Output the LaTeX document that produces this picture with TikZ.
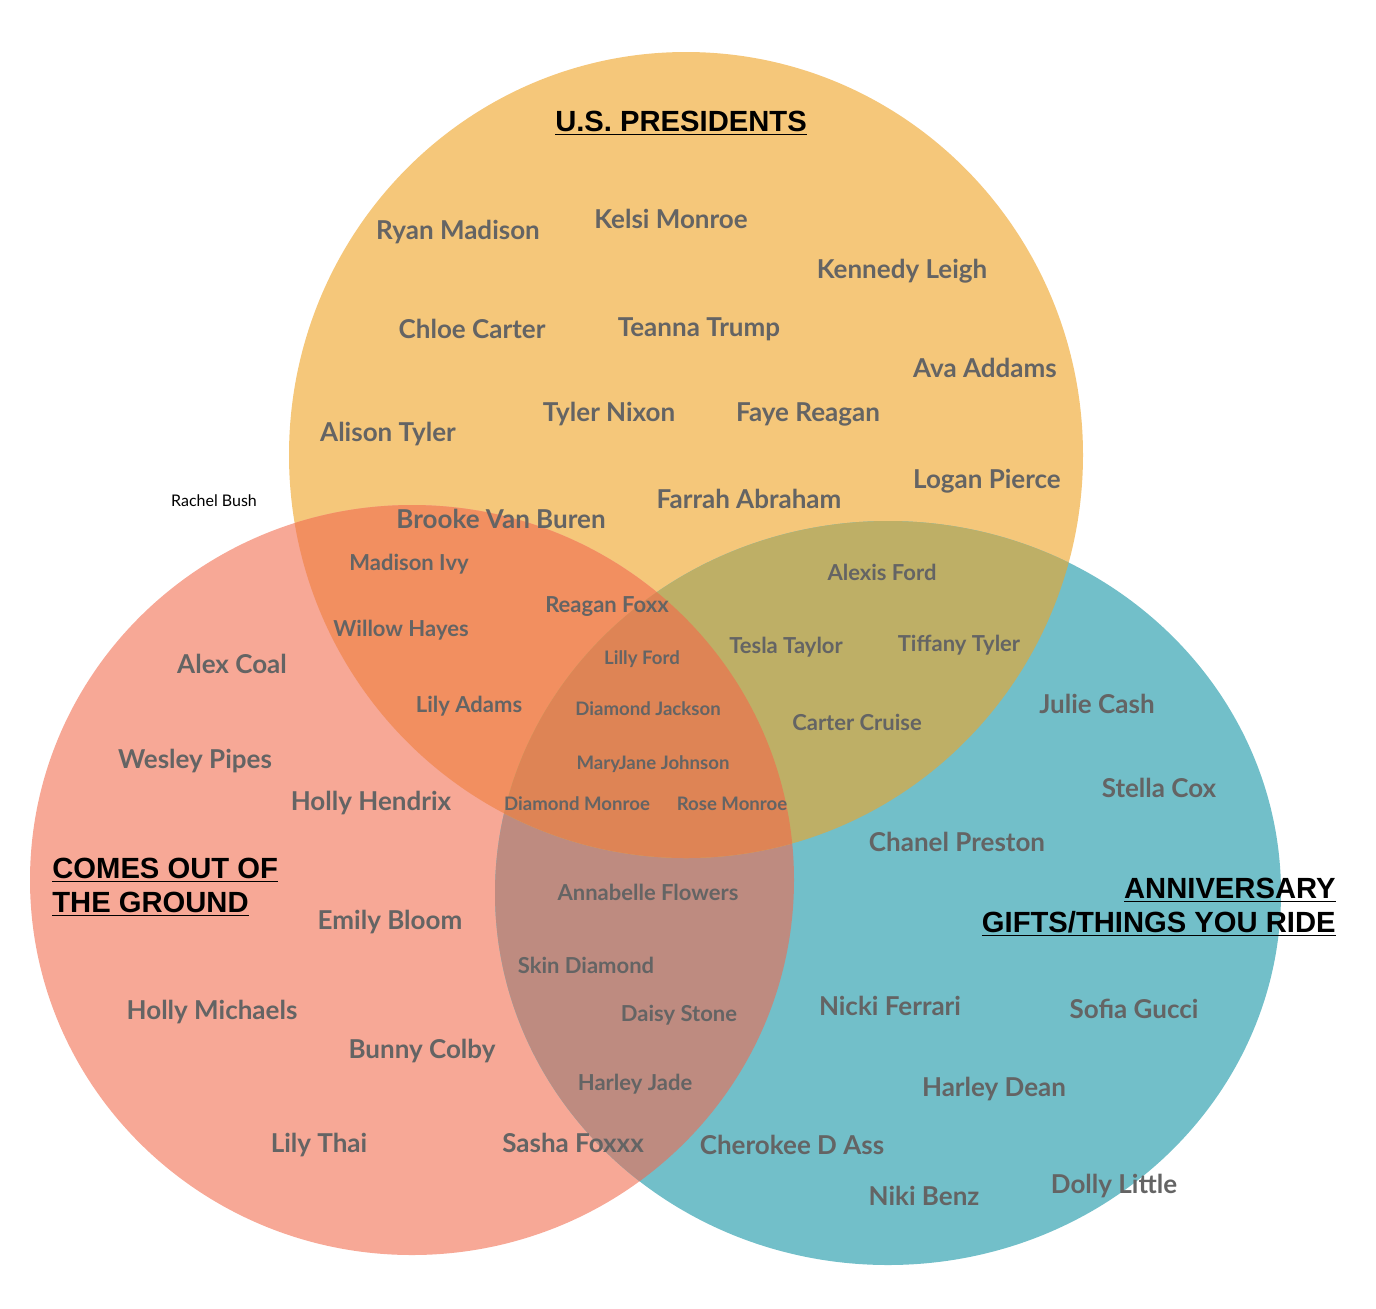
\documentclass[tikz,border=0pt]{standalone}
\usepackage{fontspec}
\setmainfont{Lato}
\newfontfamily\headfont{Liberation Sans}
\definecolor{topc}{RGB}{245,199,122}
\definecolor{leftc}{RGB}{247,168,150}
\definecolor{rightc}{RGB}{114,191,201}
\definecolor{tlc}{RGB}{242,143,96}
\definecolor{trc}{RGB}{190,175,102}
\definecolor{lrc}{RGB}{190,139,128}
\definecolor{allc}{RGB}{222,132,85}
\definecolor{txt}{RGB}{100,100,100}
\tikzset{
  nm/.style={text=txt,font=\bfseries\fontsize{13}{15}\selectfont,inner sep=0pt,yshift=-1pt},
  nmm/.style={text=txt,font=\bfseries\fontsize{11}{13}\selectfont,inner sep=0pt,yshift=-1pt},
  nms/.style={text=txt,font=\bfseries\fontsize{9.3}{11}\selectfont,inner sep=0pt,yshift=-1pt},
  head/.style={text=black,font=\headfont\bfseries\fontsize{14.6}{17}\selectfont,inner sep=0pt},
}
\begin{document}
\begin{tikzpicture}[x=0.5pt,y=-0.5pt]
\useasboundingbox (0,0) rectangle (1376,1308);
\def\topcirc{(686,455) ellipse [x radius=397,y radius=403]}
\def\leftcirc{(412,880) ellipse [x radius=382,y radius=375]}
\def\rightcirc{(888,893) ellipse [x radius=393,y radius=372]}
\fill[topc] \topcirc;
\fill[leftc] \leftcirc;
\fill[rightc] \rightcirc;
\begin{scope}
  \clip \leftcirc;
  \fill[lrc] \rightcirc;
\end{scope}
\begin{scope}
  \clip \topcirc;
  \fill[tlc] \leftcirc;
  \fill[trc] \rightcirc;
  \clip \leftcirc;
  \fill[allc] \rightcirc;
\end{scope}
% headings
\node[head] (h1) at (681,123) {\underline{U.S. PRESIDENTS}};
\node[head,anchor=west] (h2a) at (52,870) {\underline{COMES OUT OF}};
\node[head,anchor=west] (h2b) at (52,904) {\underline{THE GROUND}};
\node[head,anchor=east] (h3a) at (1336,890) {\underline{ANNIVERSARY}};
\node[head,anchor=east] (h3b) at (1336,924) {\underline{GIFTS/THINGS YOU RIDE}};
\node[font=\fontsize{8}{10}\selectfont,inner sep=0pt] (rb) at (214,501) {Rachel Bush};
% top only
\node[nm] (t1) at (458,230) {Ryan Madison};
\node[nm] (t2) at (671,217) {Kelsi Monroe};
\node[nm] (t3) at (902,269) {Kennedy Leigh};
\node[nm] (t4) at (472,327) {Chloe Carter};
\node[nm] (t5) at (699,327) {Teanna Trump};
\node[nm] (t6) at (985,366) {Ava Addams};
\node[nm] (t7) at (609,412) {Tyler Nixon};
\node[nm] (t8) at (808,412) {Faye Reagan};
\node[nm] (t9) at (388,432) {Alison Tyler};
\node[nm] (t10) at (987,479) {Logan Pierce};
\node[nm] (t11) at (749,497) {Farrah Abraham};
\node[nm] (t12) at (501,517) {Brooke Van Buren};
% top-left
\node[nmm] (tl1) at (409,562) {Madison Ivy};
\node[nmm] (tl2) at (401,628) {Willow Hayes};
\node[nmm] (tl3) at (607,605) {Reagan Foxx};
\node[nmm] (tl4) at (469,704) {Lily Adams};
% all
\node[nms] (a1) at (642,657) {Lilly Ford};
\node[nms] (a2) at (648,707) {Diamond Jackson};
\node[nms] (a3) at (653,762) {MaryJane Johnson};
\node[nms] (a4) at (577,802) {Diamond Monroe};
\node[nms] (a5) at (732,802) {Rose Monroe};
% top-right
\node[nmm] (tr1) at (882,570) {Alexis Ford};
\node[nmm] (tr2) at (786,645) {Tesla Taylor};
\node[nmm] (tr3) at (959,643) {Tiffany Tyler};
\node[nmm] (tr4) at (857,720) {Carter Cruise};
% left only
\node[nm] (l1) at (232,662) {Alex Coal};
\node[nm] (l2) at (195,759) {Wesley Pipes};
\node[nm] (l3) at (371,801) {Holly Hendrix};
\node[nm] (l4) at (390,920) {Emily Bloom};
\node[nm] (l5) at (212,1010) {Holly Michaels};
\node[nm] (l6) at (422,1049) {Bunny Colby};
\node[nm] (l7) at (319,1143) {Lily Thai};
% left-right
\node[nmm] (lr1) at (648,890) {Annabelle Flowers};
\node[nmm] (lr2) at (586,963) {Skin Diamond};
\node[nmm] (lr3) at (679,1013) {Daisy Stone};
\node[nmm] (lr4) at (635,1082) {Harley Jade};
\node[nm] (lr5) at (573,1141) {Sasha Foxxx};
% right only
\node[nm] (r1) at (1097,702) {Julie Cash};
\node[nm] (r2) at (1159,786) {Stella Cox};
\node[nm] (r3) at (957,840) {Chanel Preston};
\node[nm] (r4) at (890,1004) {Nicki Ferrari};
\node[nm] (r5) at (1134,1007) {Sofia Gucci};
\node[nm] (r6) at (994,1087) {Harley Dean};
\node[nm] (r7) at (792,1143) {Cherokee D Ass};
\node[nm] (r8) at (924,1194) {Niki Benz};
\node[nm] (r9) at (1114,1184) {Dolly Little};
\end{tikzpicture}
\end{document}
